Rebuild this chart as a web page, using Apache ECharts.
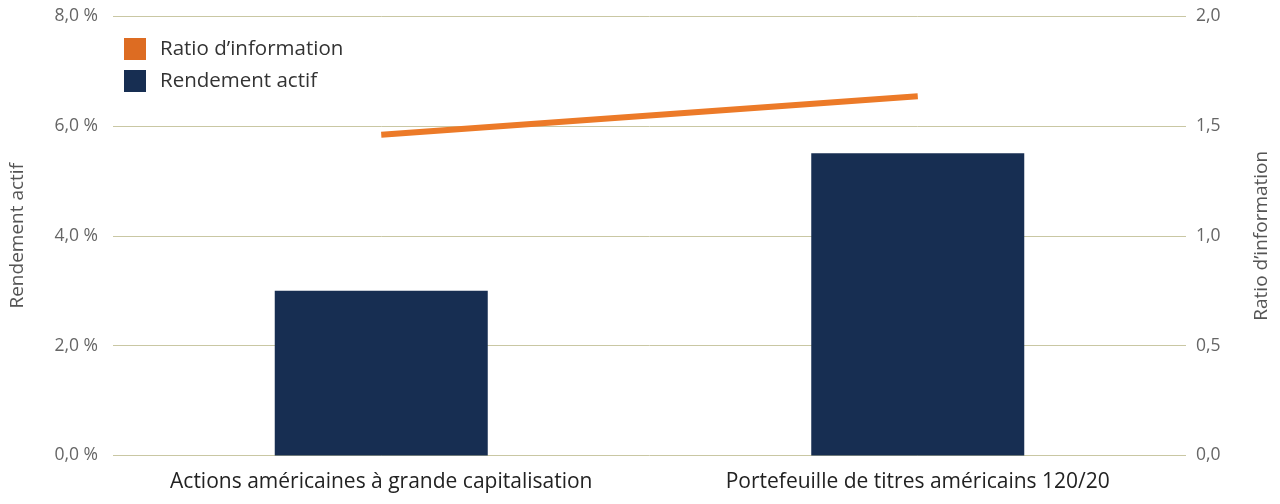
<!DOCTYPE html>
<html><head><meta charset="utf-8">
<script src="https://cdn.jsdelivr.net/npm/echarts@6/dist/echarts.min.js"></script>
<style>html,body{margin:0;padding:0;background:#fff}#c{width:1280px;height:504px}</style>
</head><body><div id="c"></div>
<script>
const categories = ['Actions américaines à grande capitalisation', 'Portefeuille de titres américains 120/20'];
const rendementActif = [3.0, 5.5];
const ratioInformation = [1.46, 1.635];
const leftTicks = [0, 2, 4, 6, 8];
const rightTicks = [0, 0.5, 1.0, 1.5, 2.0];

const font = '"Open Sans", Lato, sans-serif';
const fmt = v => v.toFixed(1).replace('.', ',');
const chart = echarts.init(document.getElementById('c'), null, {renderer: 'canvas'});
chart.setOption({
  animation: false,
  textStyle: {fontFamily: font},
  grid: {left: 107, right: 94, top: 16, bottom: 48.5, containLabel: false},
  legend: {
    orient: 'vertical', left: 119, top: 33, itemWidth: 22, itemHeight: 22, itemGap: 10,
    icon: 'rect',
    textStyle: {fontSize: 20.5, color: '#333', fontFamily: font, padding: [0, 0, 0, 9]},
    data: [{name: "Ratio d’information", itemStyle: {color: '#DD6C22'}}, {name: 'Rendement actif', itemStyle: {color: '#172E52'}}]
  },
  xAxis: {
    type: 'category', data: categories,
    axisLine: {show: false}, axisTick: {show: false},
    axisLabel: {interval: 0, fontSize: 21, color: '#222', margin: 16, fontFamily: font}
  },
  yAxis: [{
    type: 'value', min: 0, max: 8, interval: 2,
    name: 'Rendement actif', nameLocation: 'middle', nameGap: 86, nameRotate: 90,
    nameTextStyle: {fontSize: 19, color: '#555', fontFamily: font},
    axisLabel: {fontSize: 17.5, color: '#666', margin: 15, formatter: v => fmt(v) + ' %', customValues: leftTicks},
    splitLine: {lineStyle: {color: '#C9C7A3', width: 1}},
    axisLine: {show: false}, axisTick: {show: false}
  }, {
    type: 'value', min: 0, max: 2, interval: 0.5,
    name: "Ratio d’information", nameLocation: 'middle', nameGap: 66, nameRotate: 90,
    nameTextStyle: {fontSize: 19, color: '#555', fontFamily: font},
    axisLabel: {fontSize: 17.5, color: '#666', margin: 10, formatter: v => fmt(v), customValues: rightTicks},
    splitLine: {show: false},
    axisLine: {show: false}, axisTick: {show: false}
  }],
  series: [{
    name: 'Rendement actif', type: 'bar', yAxisIndex: 0, data: rendementActif,
    barWidth: 213, itemStyle: {color: '#172E52'}
  }, {
    name: "Ratio d’information", type: 'line', yAxisIndex: 1, data: ratioInformation,
    symbol: 'none', lineStyle: {color: '#EC7A28', width: 6, cap: 'butt'}, itemStyle: {color: '#EC7A28'}
  }]
});
</script></body></html>
